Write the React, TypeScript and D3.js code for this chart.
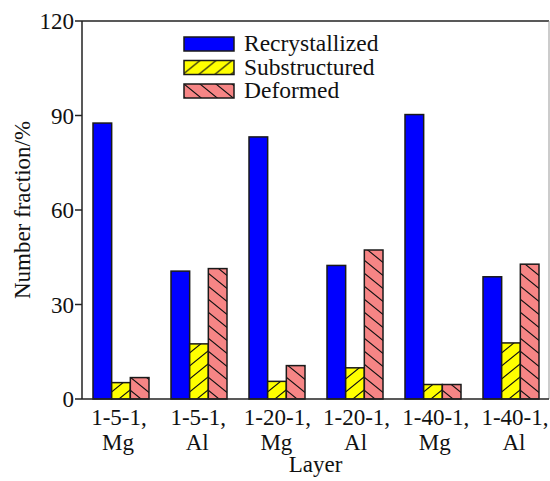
import React from "react";
import * as d3 from "d3";

const layers = ["1-5-1,|Mg", "1-5-1,|Al", "1-20-1,|Mg", "1-20-1,|Al", "1-40-1,|Mg", "1-40-1,|Al"];
const seriesNames = ["Recrystallized", "Substructured", "Deformed"];
const recrystallized = [87.6, 40.6, 83.2, 42.4, 90.3, 38.8];
const substructured = [5.2, 17.5, 5.6, 9.9, 4.6, 17.8];
const deformed = [6.8, 41.4, 10.6, 47.3, 4.6, 42.8];
const yTicks = [0, 30, 60, 90, 120];

const W = 550;
const H = 481;
const M = { left: 82, right: 549, top: 21, bottom: 399 };
const FONT = "Liberation Serif";

export default function App() {
  const values = [recrystallized, substructured, deformed];
  const x0 = d3.scaleBand<string>().domain(layers).range([M.left, 550]).padding(0);
  const groupW = 56;
  const x1 = d3
    .scaleBand<string>()
    .domain(seriesNames)
    .range([(x0.bandwidth() - groupW) / 2, (x0.bandwidth() + groupW) / 2])
    .padding(0);
  // category labels sit on a slightly wider spread than the bar groups
  const xLabel = d3.scalePoint<string>().domain(layers).range([118, 514]);
  const y = d3.scaleLinear().domain([0, 120]).range([M.bottom, M.top]);
  const fills = ["#0000ff", "url(#hatchFwd)", "url(#hatchBack)"];
  const stroke = "#1a1a1a";

  return (
    <svg width={W} height={H} style={{ position: "absolute", left: 0, top: 0, background: "#fff" }}>
      <defs>
        <pattern id="hatchFwd" patternUnits="userSpaceOnUse" width={16} height={13}>
          <rect width={16} height={13} fill="#ffff00" />
          <path d="M0,13 L16,0 M-4,3.25 L4,-3.25 M12,16.25 L20,9.75" stroke="#111" strokeWidth={1.1} />
        </pattern>
        <pattern id="hatchBack" patternUnits="userSpaceOnUse" width={16} height={13}>
          <rect width={16} height={13} fill="#f68585" />
          <path d="M0,0 L16,13 M-4,9.75 L4,16.25 M12,-3.25 L20,3.25" stroke="#111" strokeWidth={1.1} />
        </pattern>
      </defs>

      {/* bars */}
      {layers.map((l, i) => (
        <g key={l} transform={`translate(${x0(l)},0)`}>
          {seriesNames.map((s, k) => (
            <rect
              key={s}
              x={x1(s)}
              y={y(values[k][i])}
              width={x1.bandwidth()}
              height={y(0) - y(values[k][i])}
              fill={fills[k]}
              stroke={stroke}
              strokeWidth={1.5}
            />
          ))}
        </g>
      ))}

      {/* frame */}
      <line x1={M.left} x2={M.right} y1={M.top} y2={M.top} stroke="#222" strokeWidth={1.5} />
      <line x1={M.right} x2={M.right} y1={M.top} y2={M.bottom} stroke="#999" strokeWidth={1} />
      <line x1={M.left} x2={M.left} y1={M.top} y2={M.bottom} stroke="#222" strokeWidth={1.5} />
      <line x1={M.left} x2={M.right} y1={M.bottom} y2={M.bottom} stroke="#222" strokeWidth={1.5} />

      {/* y axis */}
      {yTicks.map((t) => (
        <g key={t}>
          <line x1={M.left - 7} x2={M.left} y1={y(t)} y2={y(t)} stroke="#222" strokeWidth={1.5} />
          <text x={M.left - 8} y={y(t)} dy="0.35em" textAnchor="end" fontFamily={FONT} fontSize={23} fill="#111">
            {t}
          </text>
        </g>
      ))}
      <text
        transform={`translate(30,${(M.top + M.bottom) / 2}) rotate(-90)`}
        textAnchor="middle"
        fontFamily={FONT}
        fontSize={23}
        fill="#111"
      >
        Number fraction/%
      </text>

      {/* x axis labels */}
      {layers.map((l) => {
        const [a, b] = l.split("|");
        const cx = xLabel(l) as number;
        return (
          <text key={l} textAnchor="middle" fontFamily={FONT} fontSize={23} fill="#111">
            <tspan x={cx + 1} y={425}>{a}</tspan>
            <tspan x={cx} y={450}>{b}</tspan>
          </text>
        );
      })}
      <text x={(M.left + M.right) / 2} y={472} textAnchor="middle" fontFamily={FONT} fontSize={23} fill="#111">
        Layer
      </text>

      {/* legend */}
      {seriesNames.map((s, k) => (
        <g key={s} transform={`translate(184,${37 + k * 23.5})`}>
          <rect width={50} height={14} fill={fills[k]} stroke={stroke} strokeWidth={1.5} />
          <text x={60} y={14} fontFamily={FONT} fontSize={23.5} fill="#111">
            {s}
          </text>
        </g>
      ))}
    </svg>
  );
}
